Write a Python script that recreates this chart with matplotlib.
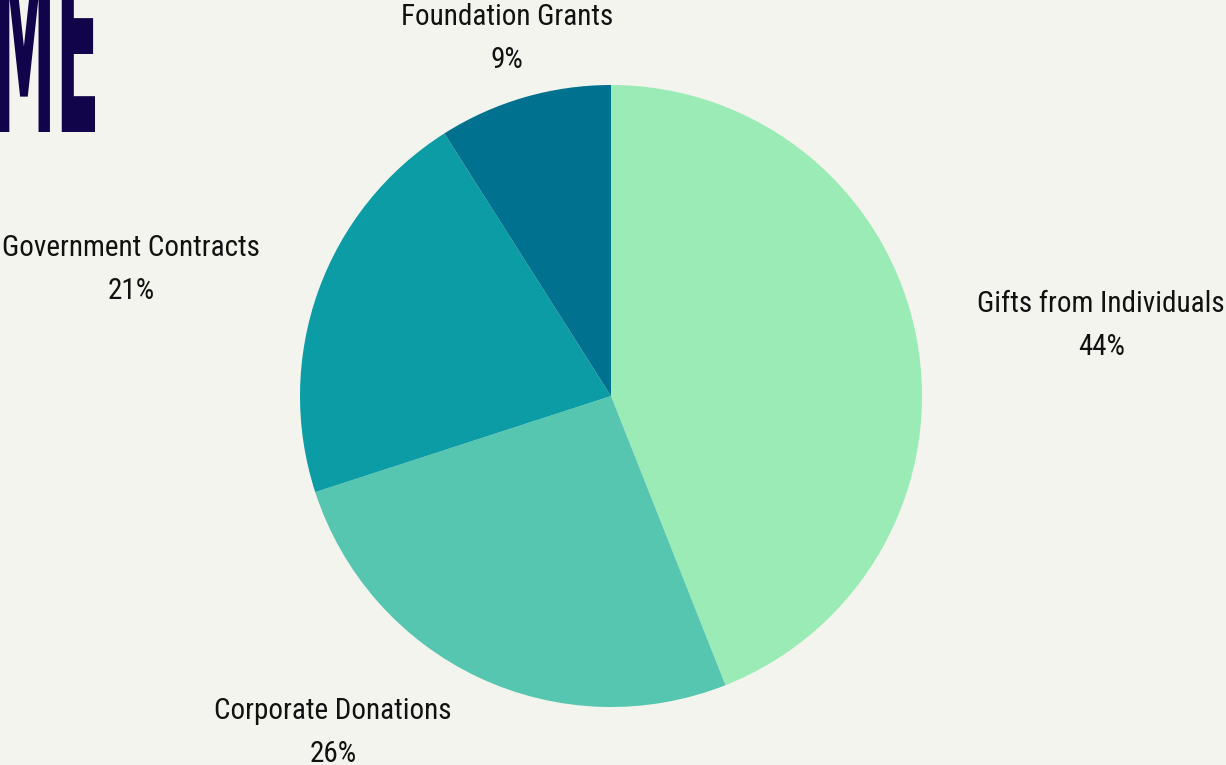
"""Revenue sources pie chart."""
import matplotlib
matplotlib.use("Agg")
import matplotlib.pyplot as plt
from matplotlib.textpath import TextPath
from matplotlib.font_manager import FontProperties
from matplotlib.patches import PathPatch
from matplotlib.transforms import Affine2D, IdentityTransform

# data
categories = ["Gifts from Individuals", "Corporate Donations",
              "Government Contracts", "Foundation Grants"]
shares = [44, 26, 21, 9]
colors = ["#9aebb6", "#56c6b0", "#0b9ca6", "#00728f"]
# label anchor points (pie radius = 1)
label_pos = [(1.576, 0.228), (-0.894, -1.082),
             (-1.543, 0.408), (-0.334, 1.151)]

BG = "#f4f4ef"
W, H = 1226, 765
CX, CY, R = 611, 396, 311  # pie centre / radius in pixels

plt.rcParams["font.family"] = ["Roboto Condensed", "Liberation Sans Narrow",
                               "Roboto", "DejaVu Sans"]

fig = plt.figure(figsize=(W / 100, H / 100), dpi=100, facecolor=BG)
ax = fig.add_axes([0, 0, 1, 1])
ax.set_facecolor(BG)

ax.pie(shares, colors=colors, startangle=90, counterclock=False,
       radius=1, center=(0, 0), frame=True,
       wedgeprops={"linewidth": 0})
ax.set_xlim(-CX / R, (W - CX) / R)
ax.set_ylim(-(H - CY) / R, CY / R)
ax.axis("off")

for name, val, (lx, ly) in zip(categories, shares, label_pos):
    ax.text(lx, ly, f"{name}\n{val}%", ha="center", va="center",
            fontsize=21, color="#111111", linespacing=1.68)

# cropped heading in the top-left corner
fp = FontProperties(family=["Liberation Sans Narrow", "DejaVu Sans"],
                    weight="bold")
tp = TextPath((0, 0), "ME", prop=fp, size=100)
verts = tp.vertices
x0, x1 = verts[:, 0].min(), verts[:, 0].max()
y0, y1 = verts[:, 1].min(), verts[:, 1].max()
tx0, tx1 = -8, 95
ty0, ty1 = H - 132, H + 52
trans = (Affine2D().translate(-x0, -y0)
         .scale((tx1 - tx0) / (x1 - x0), (ty1 - ty0) / (y1 - y0))
         .translate(tx0, ty0) + IdentityTransform())
fig.add_artist(PathPatch(tp, transform=trans, facecolor="#12044a",
                         edgecolor="none"))

fig.savefig("out.png", dpi=100, facecolor=BG)
